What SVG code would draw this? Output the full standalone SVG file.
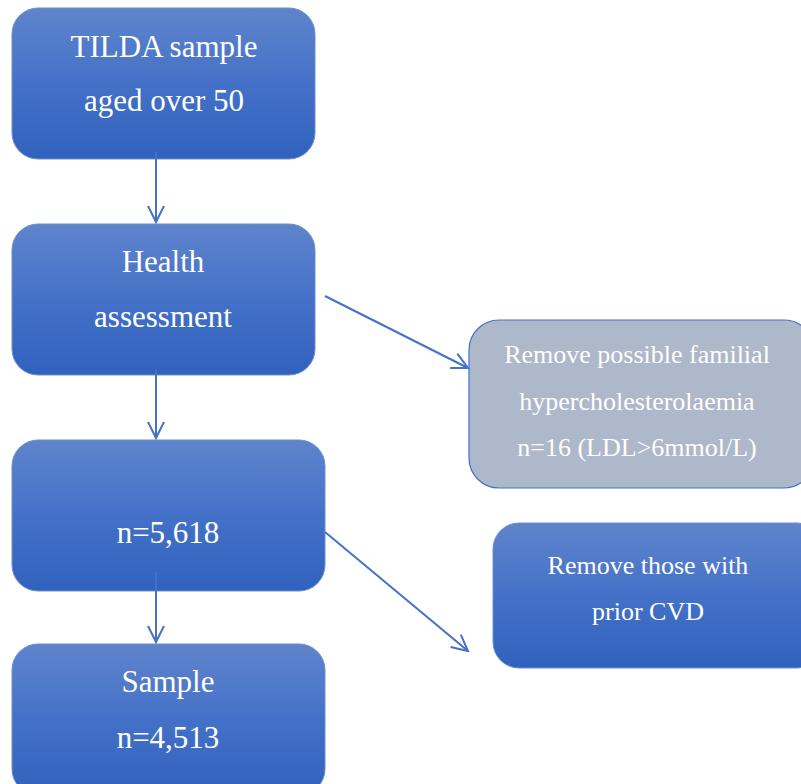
<svg xmlns="http://www.w3.org/2000/svg" width="801" height="784" viewBox="0 0 801 784">
<defs>
<linearGradient id="blue" x1="0" y1="0" x2="0" y2="1">
<stop offset="0" stop-color="#5f84cc"/>
<stop offset="0.5" stop-color="#4471c8"/>
<stop offset="1" stop-color="#3062bd"/>
</linearGradient>
<marker id="arr" viewBox="0 0 20 20" refX="18" refY="10" markerWidth="20" markerHeight="20" markerUnits="userSpaceOnUse" orient="auto">
<path d="M2,2 L18,10 L2,18" fill="none" stroke="#4472c4" stroke-width="2"/>
</marker>
<style>
.box{fill:url(#blue);stroke:#6b8fd0;stroke-width:1}
.gray{fill:#adb8ca;stroke:#4472c4;stroke-width:1.2}
text{fill:#ffffff;font-family:'Liberation Serif',serif;text-anchor:middle}
.big{font-size:31px}
.small{font-size:26px}
.c{fill:none;stroke:#4472c4;stroke-width:2;marker-end:url(#arr)}
</style>
</defs>
<rect width="801" height="784" fill="#ffffff"/>
<g id="n1"><rect class="box" x="12" y="8" width="303" height="151" rx="26"/>
<text class="big" x="164" y="57">TILDA sample</text>
<text class="big" x="164" y="111">aged over 50</text></g>
<g id="n2"><rect class="box" x="12" y="224" width="303" height="151" rx="26"/>
<text class="big" x="163" y="272">Health</text>
<text class="big" x="163" y="327">assessment</text></g>
<g id="n3"><rect class="box" x="12" y="440" width="313" height="151" rx="26"/>
<text class="big" x="168" y="543">n=5,618</text></g>
<g id="n4"><rect class="box" x="12" y="644" width="313" height="151" rx="26"/>
<text class="big" x="168" y="692">Sample</text>
<text class="big" x="168" y="748">n=4,513</text></g>
<g id="n5"><rect class="gray" x="469" y="320" width="345" height="168" rx="30"/>
<text class="small" x="637" y="363">Remove possible familial</text>
<text class="small" x="637" y="410">hypercholesterolaemia</text>
<text class="small" x="637" y="456">n=16 (LDL&gt;6mmol/L)</text></g>
<g id="n6"><rect class="box" x="493" y="523" width="330" height="145" rx="26"/>
<text class="small" x="648" y="574">Remove those with</text>
<text class="small" x="648" y="620">prior CVD</text></g>
<g id="connectors">
<line class="c" x1="156" y1="152" x2="156" y2="222"/>
<line class="c" x1="156" y1="369" x2="156" y2="438"/>
<line class="c" x1="156" y1="572" x2="156" y2="642"/>
<line class="c" x1="325" y1="296" x2="468" y2="368"/>
<line class="c" x1="325" y1="532" x2="468" y2="651"/>
</g>
</svg>
